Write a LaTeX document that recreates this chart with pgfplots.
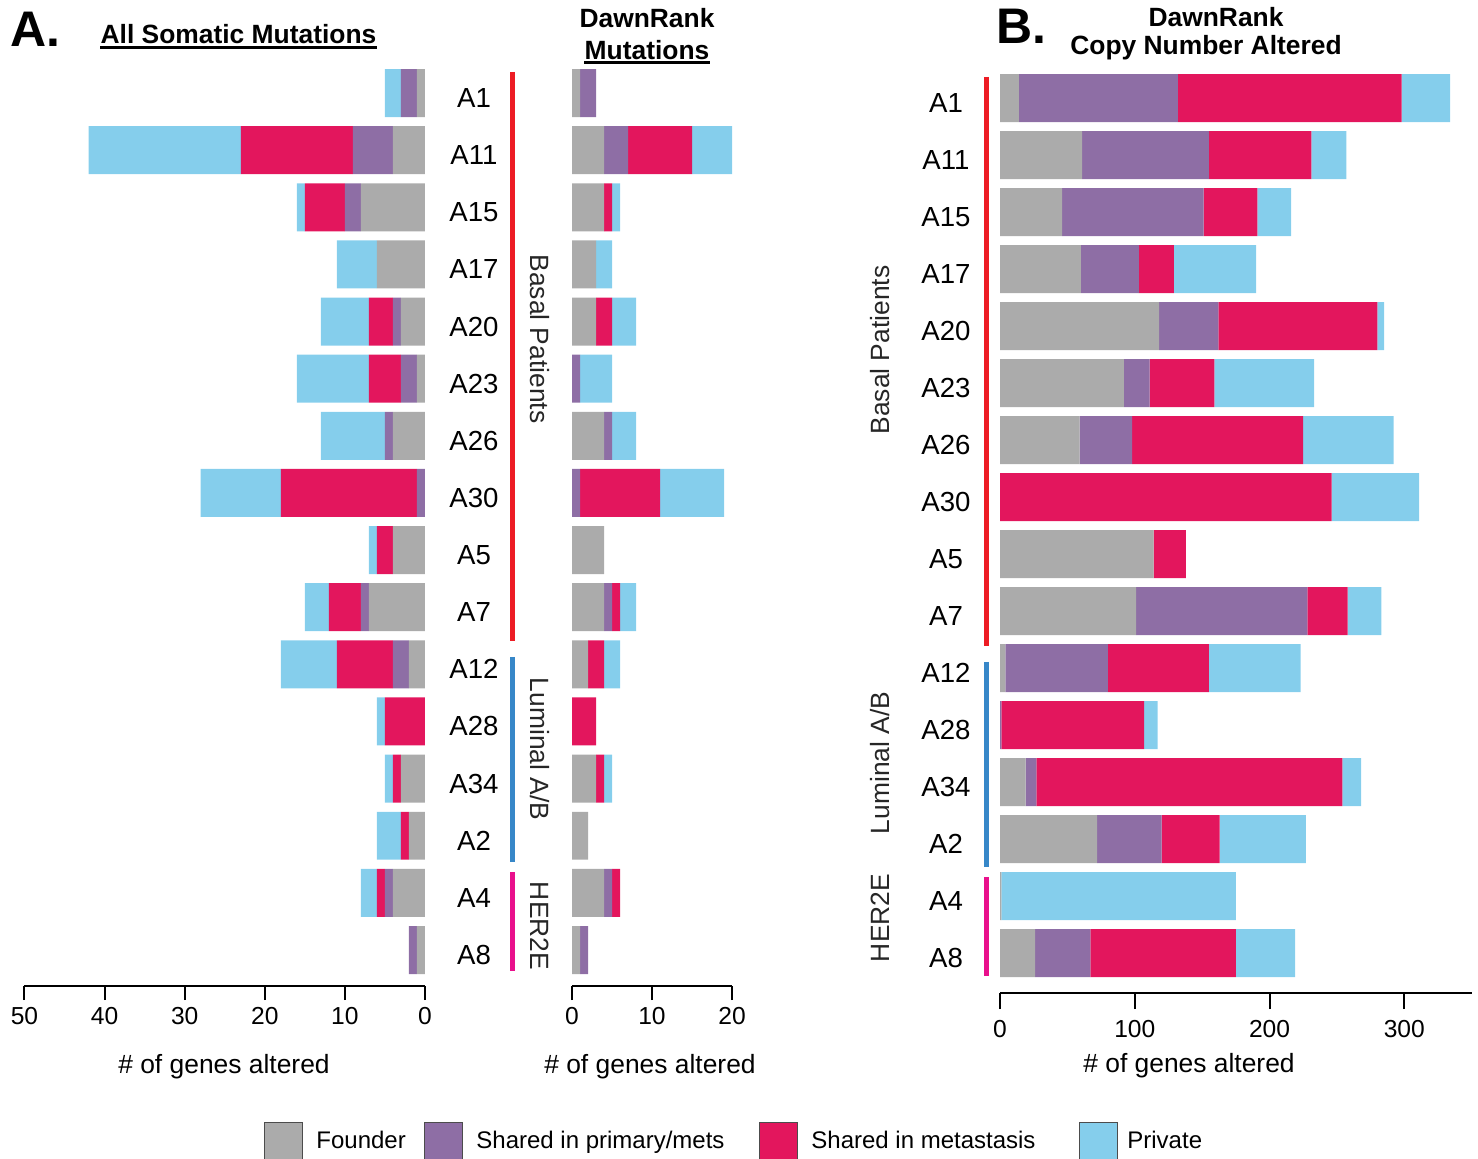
\documentclass[border=0pt]{standalone}
\usepackage{fontspec}
\setmainfont{Liberation Sans}
\usepackage{pgfplots}
\pgfplotsset{compat=1.18}
\usepackage{pgfplotstable}

\definecolor{cFounder}{RGB}{171,171,171}
\definecolor{cPrimary}{RGB}{142,110,165}
\definecolor{cMet}{RGB}{227,22,93}
\definecolor{cPrivate}{RGB}{133,206,236}
\definecolor{gBasal}{RGB}{237,28,36}
\definecolor{gLum}{RGB}{55,135,200}
\definecolor{gHer}{RGB}{233,16,140}

\newcommand\tickfont{\fontsize{12.3pt}{14pt}\selectfont}
\newcommand\rowfont{\fontsize{13.8pt}{16pt}\selectfont}
\newcommand\labfont{\fontsize{13.2pt}{15pt}\selectfont}
\newcommand\titlefont{\fontsize{13.2pt}{15pt}\selectfont\bfseries}
\newcommand\panelfont{\fontsize{25pt}{28pt}\selectfont\bfseries}
\newcommand\legfont{\fontsize{12pt}{14pt}\selectfont}

% rows: y = 15 for A1 down to y = 0 for A8
% F = founder, P = shared in primary/mets, M = shared in metastasis, V = private
\pgfplotstableread{
row F P M V
15 1 2 0 2
14 4 5 14 19
13 8 2 5 1
12 6 0 0 5
11 3 1 3 6
10 1 2 4 9
9 4 1 0 8
8 0 1 17 10
7 4 0 2 1
6 7 1 4 3
5 2 2 7 7
4 0 0 5 1
3 3 0 1 1
2 2 0 1 3
1 4 1 1 2
0 1 1 0 0
}\allsomatic

\pgfplotstableread{
row F P M V
15 1 2 0 0
14 4 3 8 5
13 4 0 1 1
12 3 0 0 2
11 3 0 2 3
10 0 1 0 4
9 4 1 0 3
8 0 1 10 8
7 4 0 0 0
6 4 1 1 2
5 2 0 2 2
4 0 0 3 0
3 3 0 1 1
2 2 0 0 0
1 4 1 1 0
0 1 1 0 0
}\dawnmut

\pgfplotstableread{
row F P M V
15 14 118 166 36
14 61 94 76 26
13 46 105 40 25
12 60 43 26 61
11 118 44 118 5
10 92 19 48 74
9 59 39 127 67
8 0 0 246 65
7 114 0 24 0
6 101 127 30 25
5 4 76 75 68
4 0 1 106 10
3 19 8 227 14
2 72 48 43 64
1 1 0 0 174
0 26 41 108 44
}\dawncna

\pgfplotsset{
  panel/.style={
    scale only axis,
    anchor=south west,
    xbar stacked,
    axis x line*=bottom,
    tick align=outside,
    x axis line style={line width=1pt,-},
    xtick style={line width=1pt,black},
    major tick length=7pt,
    xticklabel style={font=\tickfont},
    /pgf/number format/assume math mode=true,
    clip=false,
    every axis plot/.append style={draw=none},
  },
  rowlabels/.style={
    axis y line*=left,
    y axis line style={draw=none},
    ytick={0,...,15},
    yticklabels={A8,A4,A2,A34,A28,A12,A7,A5,A30,A26,A23,A20,A17,A15,A11,A1},
    ytick style={draw=none},
  },
}

\newcommand\stackbars[1]{%
  \addplot[fill=cFounder] table[x=F,y=row]{#1};
  \addplot[fill=cPrimary] table[x=P,y=row]{#1};
  \addplot[fill=cMet] table[x=M,y=row]{#1};
  \addplot[fill=cPrivate] table[x=V,y=row]{#1};
}

\begin{document}
\begin{tikzpicture}
\path[use as bounding box] (0,0) rectangle (739pt,579pt);

% A: all somatic mutations, bars grow to the left
\begin{axis}[panel,
  at={(12.25pt,86pt)}, width=200.25pt, height=460.77pt,
  x dir=reverse, xmin=0, xmax=50, xtick={0,10,...,50},
  ymin=-0.63, ymax=15.5, bar width=0.84,
  hide y axis]
\stackbars{\allsomatic}
\end{axis}

% A: DawnRank mutations
\begin{axis}[panel, rowlabels,
  at={(286pt,86pt)}, width=80pt, height=460.77pt,
  xmin=0, xmax=20, xtick={0,10,20},
  ymin=-0.63, ymax=15.5, bar width=0.84,
  yticklabel style={font=\rowfont, anchor=center, xshift=-42pt, yshift=-2.5pt}]
\stackbars{\dawnmut}
\end{axis}

% B: DawnRank copy number altered
\begin{axis}[panel, rowlabels,
  at={(500pt,82.5pt)}, width=235.85pt, height=461.7pt,
  xmin=0, xmax=350, xtick={0,100,200,300},
  major tick length=8pt,
  xticklabel style={yshift=-2pt},
  ymin=-0.70, ymax=15.5, bar width=0.842,
  yticklabel style={font=\rowfont, anchor=center, xshift=-19pt, yshift=-2.5pt}]
\stackbars{\dawncna}
\end{axis}

% subtype brackets, panel A
\draw[gBasal, line width=2.5pt] (256pt,543pt) -- (256pt,258.5pt);
\draw[gLum, line width=2.5pt] (256pt,250.5pt) -- (256pt,148pt);
\draw[gHer, line width=2.5pt] (256pt,143pt) -- (256pt,93.5pt);
\node[font=\labfont, text=black!85, rotate=-90] at (270pt,409.5pt) {Basal Patients};
\node[font=\labfont, text=black!85, rotate=-90] at (270pt,204.5pt) {Luminal A/B};
\node[font=\labfont, text=black!85, rotate=-90] at (270pt,116pt) {HER2E};

% subtype brackets, panel B
\draw[gBasal, line width=2.5pt] (493pt,540.5pt) -- (493pt,256pt);
\draw[gLum, line width=2.5pt] (493pt,248pt) -- (493pt,145.5pt);
\draw[gHer, line width=2.5pt] (493pt,140.5pt) -- (493pt,91pt);
\node[font=\labfont, text=black!85, rotate=90] at (440pt,404pt) {Basal Patients};
\node[font=\labfont, text=black!85, rotate=90] at (440pt,197.5pt) {Luminal A/B};
\node[font=\labfont, text=black!85, rotate=90] at (440pt,120pt) {HER2E};

% panel letters and titles
\node[font=\panelfont, anchor=base west, inner sep=0pt] at (5pt,555.7pt) {A.};
\node[font=\panelfont, anchor=base west, inner sep=0pt] at (498pt,557.3pt) {B.};

\node[font=\titlefont, anchor=base, inner sep=0pt] (t1) at (119.25pt,557pt) {All Somatic Mutations};
\draw[line width=1.15pt] ([yshift=-1.75pt]t1.base west) -- ([yshift=-1.75pt]t1.base east);

\node[font=\titlefont, anchor=base, inner sep=0pt] at (323.5pt,565.2pt) {DawnRank};
\node[font=\titlefont, anchor=base, inner sep=0pt] (t2) at (323.5pt,549.3pt) {Mutations};
\draw[line width=1.15pt] ([yshift=-1.6pt]t2.base west) -- ([yshift=-1.6pt]t2.base east);

\node[font=\titlefont, anchor=base, inner sep=0pt] at (608pt,565.7pt) {DawnRank};
\node[font=\titlefont, anchor=base, inner sep=0pt] at (603pt,551.8pt) {Copy Number Altered};

% axis titles
\node[font=\labfont, anchor=base, inner sep=0pt] at (112pt,42.5pt) {\# of genes altered};
\node[font=\labfont, anchor=base, inner sep=0pt] at (325pt,42.5pt) {\# of genes altered};
\node[font=\labfont, anchor=base, inner sep=0pt] at (594.5pt,42.6pt) {\# of genes altered};

% legend
\begin{scope}[every node/.style={font=\legfont, anchor=base west, inner sep=0pt}]
\filldraw[fill=cFounder, draw=black!70, line width=0.5pt] (132pt,18pt) rectangle (151pt,-2pt);
\node at (158pt,5pt) {Founder};
\filldraw[fill=cPrimary, draw=black!70, line width=0.5pt] (212pt,18pt) rectangle (231pt,-2pt);
\node at (238pt,5pt) {Shared in primary/mets};
\filldraw[fill=cMet, draw=black!70, line width=0.5pt] (379.5pt,18pt) rectangle (398.5pt,-2pt);
\node at (405.5pt,5pt) {Shared in metastasis};
\filldraw[fill=cPrivate, draw=black!70, line width=0.5pt] (539.5pt,18pt) rectangle (558.5pt,-2pt);
\node at (563.5pt,5pt) {Private};
\end{scope}
\end{tikzpicture}
\end{document}
